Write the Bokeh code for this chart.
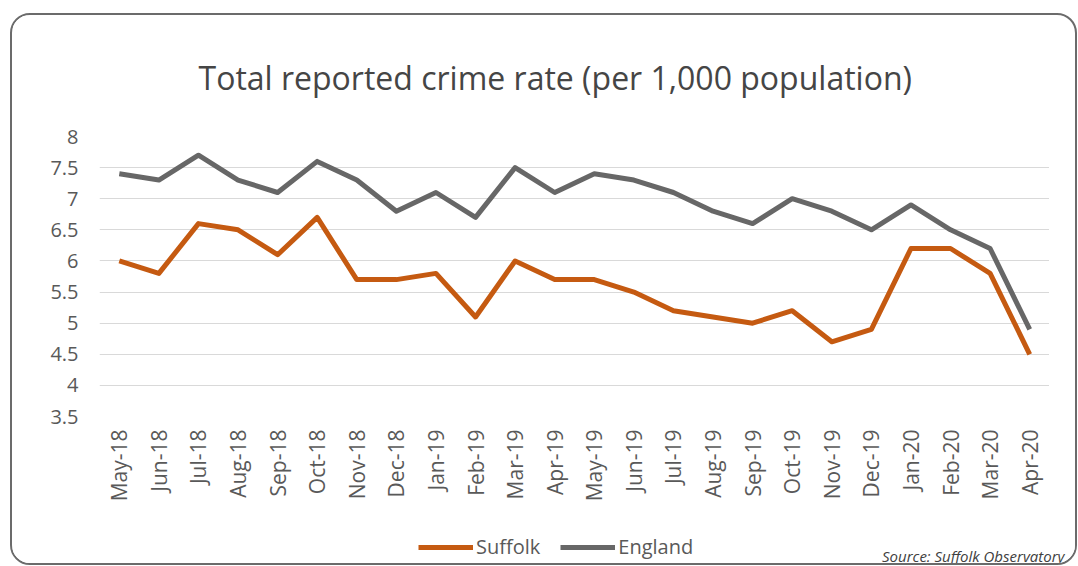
import math
from bokeh.plotting import figure
from bokeh.models import (FactorRange, Range1d, FixedTicker, Legend, LegendItem,
                          ColumnDataSource, Label)
from bokeh.layouts import column
from bokeh.embed import file_html
from bokeh.resources import INLINE

months = ["May-18", "Jun-18", "Jul-18", "Aug-18", "Sep-18", "Oct-18", "Nov-18", "Dec-18",
          "Jan-19", "Feb-19", "Mar-19", "Apr-19", "May-19", "Jun-19", "Jul-19", "Aug-19",
          "Sep-19", "Oct-19", "Nov-19", "Dec-19", "Jan-20", "Feb-20", "Mar-20", "Apr-20"]
suffolk = [6.0, 5.8, 6.6, 6.5, 6.1, 6.7, 5.7, 5.7, 5.8, 5.1, 6.0, 5.7,
           5.7, 5.5, 5.2, 5.1, 5.0, 5.2, 4.7, 4.9, 6.2, 6.2, 5.8, 4.5]
england = [7.4, 7.3, 7.7, 7.3, 7.1, 7.6, 7.3, 6.8, 7.1, 6.7, 7.5, 7.1,
           7.4, 7.3, 7.1, 6.8, 6.6, 7.0, 6.8, 6.5, 6.9, 6.5, 6.2, 4.9]
y_ticks = [3.5, 4, 4.5, 5, 5.5, 6, 6.5, 7, 7.5, 8]
y_tick_labels = ["3.5", "4", "4.5", "5", "5.5", "6", "6.5", "7", "7.5", "8"]
series_names = ["Suffolk", "England"]
series_cols = ["suffolk", "england"]
series_colors = ["#c55a11", "#676767"]

title_text = "Total reported crime rate (per 1,000 population)"
source_text = "Source: Suffolk Observatory"

FONT = "Open Sans"
TXT = "#595959"
W = 1063

src = ColumnDataSource(dict(month=months, suffolk=suffolk, england=england))

# ---- main chart ----
p = figure(width=1037, height=505, output_backend="svg", toolbar_location=None,
           x_range=FactorRange(*months, range_padding=0),
           y_range=Range1d(3.5, 8),
           min_border_left=87, min_border_right=0, min_border_top=115, min_border_bottom=104)
p.frame_align = False
p.background_fill_color = "white"
p.border_fill_color = "white"
p.outline_line_color = None

p.title.text = title_text
p.title.text_font = FONT
p.title.text_font_size = "32px"
p.title.text_font_style = "normal"
p.title.text_color = "#454545"
p.title.align = "left"
p.title.offset = 99
p.title.standoff = 76

p.xgrid.grid_line_color = None
p.ygrid.grid_line_color = "#d9d9d9"
p.ygrid.grid_line_width = 1
p.ygrid.ticker = FixedTicker(ticks=y_ticks)

p.yaxis.ticker = FixedTicker(ticks=y_ticks)
p.yaxis.major_label_overrides = {t: l for t, l in zip(y_ticks, y_tick_labels)}
for ax in (p.xaxis, p.yaxis):
    ax.axis_line_color = None
    ax.major_tick_line_color = None
    ax.minor_tick_line_color = None
    ax.major_tick_out = 0
    ax.major_tick_in = 0
    ax.major_label_text_font = FONT
    ax.major_label_text_color = TXT
p.yaxis.major_label_text_font_size = "20px"
p.yaxis.major_label_standoff = 21
p.xaxis.major_label_orientation = math.pi / 2
p.xaxis.major_label_standoff = 13
p.xaxis.major_label_text_font_size = "21px"

for col, color in zip(series_cols, series_colors):
    p.line("month", col, source=src, line_color=color, line_width=5, line_join="round")

# ---- legend / source strip ----
# the series are plotted on a y range far above their values, so only the legend keys show
p2 = figure(width=W, height=43, output_backend="svg", toolbar_location=None,
            x_range=FactorRange(*months, range_padding=0), y_range=Range1d(100, 101),
            x_axis_type=None, y_axis_type=None,
            min_border_left=87, min_border_right=0, min_border_top=0, min_border_bottom=0)
p2.frame_align = False
p2.background_fill_color = "white"
p2.border_fill_color = "white"
p2.outline_line_color = None

items = []
for name, col, color in zip(series_names, series_cols, series_colors):
    r = p2.line("month", col, source=src, line_color=color, line_width=5)
    items.append(LegendItem(label=name, renderers=[r]))

legend = Legend(items=items, orientation="horizontal", location=(319, 3),
                glyph_width=55, glyph_height=18, label_standoff=3, spacing=20,
                padding=0, margin=0, border_line_alpha=0, background_fill_alpha=0,
                label_text_font=FONT, label_text_font_size="20px",
                label_text_color=TXT, label_height=18)
p2.add_layout(legend, "center")

p2.add_layout(Label(x=965, y=8, x_units="screen", y_units="screen", text=source_text,
                    text_align="right", text_baseline="alphabetic", text_font=FONT,
                    text_font_style="italic", text_font_size="15px",
                    text_color="#404040"))

layout = column(p, p2, spacing=0, margin=(13, 0, 0, 10),
                styles={"border": "2px solid #6b6b6b", "border-radius": "20px",
                        "overflow": "hidden", "background-color": "white"})

open("out.html", "w").write(file_html(layout, INLINE))
